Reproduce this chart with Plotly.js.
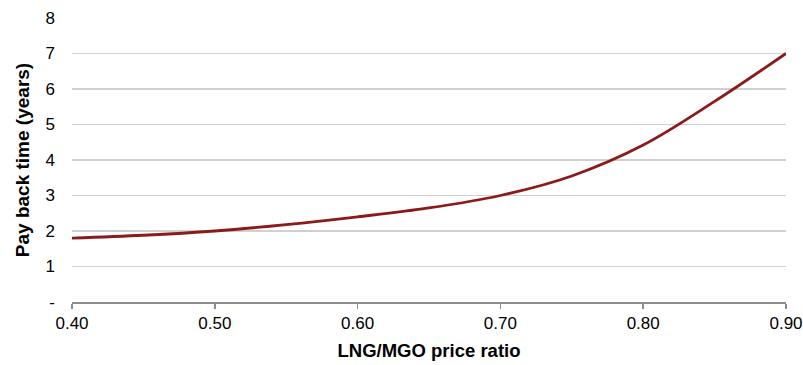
<!DOCTYPE html>
<html>
<head>
<meta charset="utf-8">
<script src="https://cdn.plot.ly/plotly-3.0.1.min.js"></script>
<style>html,body{margin:0;padding:0;background:#fff}#chart{width:803px;height:365px}</style>
</head>
<body>
<div id="chart"></div>
<script>
const priceRatio = [0.40, 0.45, 0.50, 0.55, 0.60, 0.65, 0.70, 0.75, 0.80, 0.85, 0.90];
const paybackYears = [1.80, 1.88, 2.00, 2.18, 2.40, 2.65, 3.00, 3.55, 4.42, 5.65, 7.00];
const xTickVals = [0.40, 0.50, 0.60, 0.70, 0.80, 0.90];
const xTickText = ["0.40", "0.50", "0.60", "0.70", "0.80", "0.90"];
const yTickVals = [0, 1, 2, 3, 4, 5, 6, 7, 8];
const yTickText = ["-", "1", "2", "3", "4", "5", "6", "7", "8"];

const trace = {
  x: priceRatio,
  y: paybackYears,
  type: "scatter",
  mode: "lines",
  line: {color: "#8b1a1a", width: 2.8, shape: "spline", smoothing: 1},
  hoverinfo: "x+y"
};

const layout = {
  width: 803, height: 365,
  margin: {l: 72, r: 17, t: 18, b: 63},
  paper_bgcolor: "#ffffff",
  plot_bgcolor: "#ffffff",
  showlegend: false,
  font: {family: "Liberation Sans, Arial, sans-serif", size: 18, color: "#000"},
  xaxis: {
    range: [0.40, 0.90],
    tickvals: xTickVals,
    ticktext: xTickText,
    showgrid: false,
    zeroline: false,
    showline: true,
    linecolor: "#8c8c8c",
    linewidth: 1.5,
    ticks: "outside",
    ticklen: 5,
    tickwidth: 1.5,
    tickcolor: "#8c8c8c",
    tickfont: {size: 17},
    title: {text: "<b>LNG/MGO price ratio</b>", font: {size: 18.5}, standoff: 12}
  },
  yaxis: {
    range: [0, 8],
    tickvals: yTickVals,
    ticktext: yTickText,
    showgrid: true,
    gridcolor: "#d0d0d0",
    gridwidth: 1.5,
    zeroline: false,
    showline: false,
    ticks: "",
    ticklabelstandoff: 16,
    tickfont: {size: 17},
    title: {text: "<b>Pay back time (years)</b>", font: {size: 19}, standoff: 10}
  }
};

Plotly.newPlot("chart", [trace], layout, {staticPlot: true, displayModeBar: false});
</script>
</body>
</html>
